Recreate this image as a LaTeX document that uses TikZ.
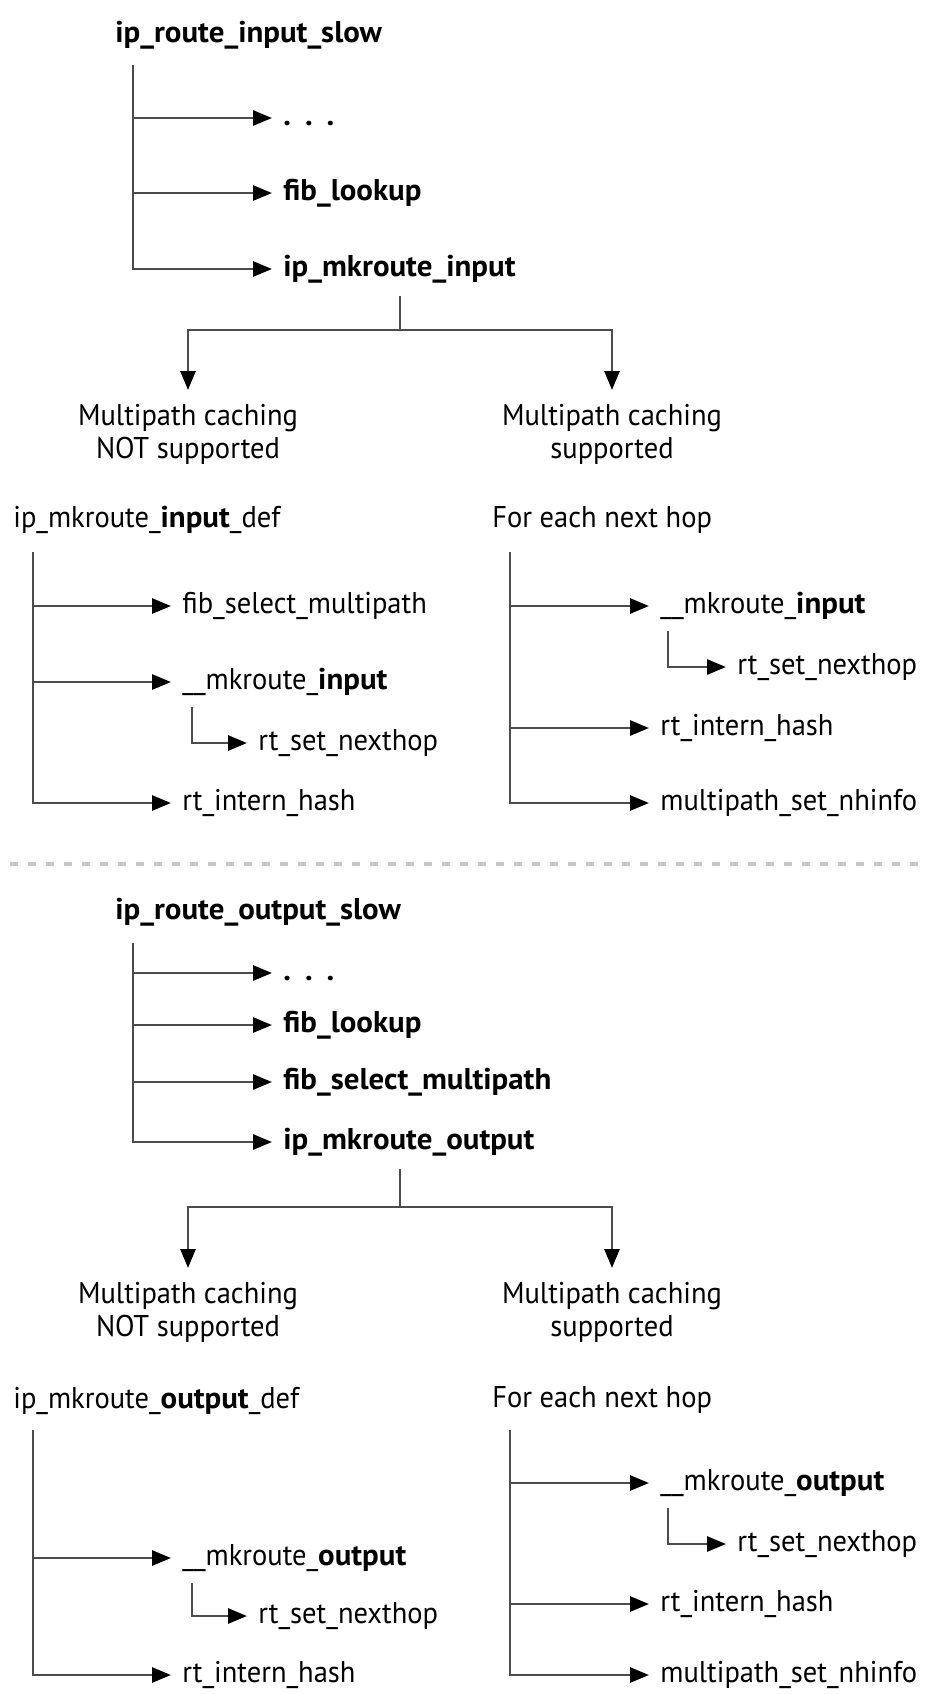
\documentclass[tikz,border=0pt]{standalone}
\usepackage{fontspec}
\setmainfont{PT Sans}[UprightFeatures={FakeStretch=0.95}, BoldFeatures={FakeStretch=1.03}]
\usetikzlibrary{arrows.meta,positioning}
\newcommand{\lblsize}{\fontsize{15}{16.5}\selectfont}
\tikzset{
  fn/.style={anchor=west, inner sep=0pt, text height=11pt, text depth=3.5pt, font=\lblsize},
  fnb/.style={fn, font=\lblsize\bfseries},
  cond/.style={anchor=north, align=center, inner sep=0pt, font=\lblsize},
  ln/.style={draw=black!70, line width=1.4pt},
  arr/.style={ln, -{Triangle[length=9.5pt,width=7.5pt,color=black]}, shorten >=5.5pt},
  sepline/.style={draw=black!22, line width=1.6pt, dash pattern=on 4pt off 5pt}
}
\newcommand{\calls}[2]{%
	\foreach \callee in {#2}{
		\draw[arr] (#1 |- \callee.west) -- (\callee.west);}
}

\begin{document}
\begin{tikzpicture}[x=0.5pt,y=-0.5pt]
        \useasboundingbox (0,0) rectangle (927,1694);
        \node[fnb] (ris) at (115,35) {ip\_route\_input\_slow};
        \coordinate (ti) at (133,65);
        \node[fnb] (dti) at (283,118) {.\hspace{7pt}.\hspace{7pt}.};
        \node[fnb] (fli) at (283,193) {fib\_lookup};
        \node[fnb] (mri) at (283,269) {ip\_mkroute\_input};
        \draw[arr] (ti) |- (mri.west);
        \calls{ti}{dti,fli}
        \coordinate (ki) at (400,330);
        \node[cond] (noi) at (188,404) {Multipath caching\\NOT supported};
        \node[cond] (yei) at (612,404) {Multipath caching\\supported};
        \draw[ln,shorten <=6pt] (ki |- mri.south) -- (ki);
        \draw[arr,shorten >=7pt] (ki) -| (noi.north);
        \draw[arr,shorten >=7pt] (ki) -| (yei.north);
        \node[fn] (dfi) at (13,520) {ip\_mkroute\_\textbf{input}\_def};
        \node[fn] (hpi) at (492,520) {For each next hop};
        \coordinate (lti) at (33,552);
        \coordinate (rti) at (510,552);
        \node[fn] (fsi) at (182,606) {fib\_select\_multipath};
        \node[fn] (mki) at (182,682) {\_\_mkroute\_\textbf{input}};
        \node[fn] (nhi) at (258,743) {rt\_set\_nexthop};
        \node[fn] (rhi) at (182,803) {rt\_intern\_hash};
        \draw[arr] (lti) |- (rhi.west);
        \calls{lti}{fsi,mki}
        \draw[arr] ([xshift=5pt,yshift=-5pt]mki.south west) |- (nhi.west);
        \node[fn] (mkj) at (660,606) {\_\_mkroute\_\textbf{input}};
        \node[fn] (nhj) at (737,667) {rt\_set\_nexthop};
        \node[fn] (rhj) at (660,728) {rt\_intern\_hash};
        \node[fn] (mpj) at (660,803) {multipath\_set\_nhinfo};
        \draw[arr] (rti) |- (mpj.west);
        \calls{rti}{mkj,rhj}
        \draw[arr] ([xshift=4pt,yshift=-5pt]mkj.south west) |- (nhj.west);
        \coordinate (sepl) at (10,864);
        \coordinate (sepr) at (927,864);
        \draw[sepline] (sepl) -- (sepr);
        \node[fnb] (ros) at (115,912) {ip\_route\_output\_slow};
        \coordinate (to) at (133,943);
        \node[fnb] (dto) at (283,973) {.\hspace{7pt}.\hspace{7pt}.};
        \node[fnb] (flo) at (283,1025) {fib\_lookup};
        \node[fnb] (fso) at (283,1082) {fib\_select\_multipath};
        \node[fnb] (mro) at (283,1142) {ip\_mkroute\_output};
        \draw[arr] (to) |- (mro.west);
        \calls{to}{dto,flo,fso}
        \coordinate (ko) at (400,1207);
        \node[cond] (noo) at (188,1282) {Multipath caching\\NOT supported};
        \node[cond] (yeo) at (612,1282) {Multipath caching\\supported};
        \draw[ln,shorten <=6pt] (ko |- mro.south) -- (ko);
        \draw[arr,shorten >=7pt] (ko) -| (noo.north);
        \draw[arr,shorten >=7pt] (ko) -| (yeo.north);
        \node[fn] (dfo) at (13,1401) {ip\_mkroute\_\textbf{output}\_def};
        \node[fn] (hpo) at (492,1400) {For each next hop};
        \coordinate (lto) at (33,1430);
        \coordinate (rto) at (510,1430);
        \node[fn] (mko) at (182,1558) {\_\_mkroute\_\textbf{output}};
        \node[fn] (nho) at (258,1616) {rt\_set\_nexthop};
        \node[fn] (rho) at (182,1675) {rt\_intern\_hash};
        \draw[arr] (lto) |- (rho.west);
        \calls{lto}{mko}
        \draw[arr] ([xshift=5pt,yshift=-5pt]mko.south west) |- (nho.west);
        \node[fn] (mkp) at (660,1483) {\_\_mkroute\_\textbf{output}};
        \node[fn] (nhp) at (737,1544) {rt\_set\_nexthop};
        \node[fn] (rhp) at (660,1604) {rt\_intern\_hash};
        \node[fn] (mpp) at (660,1675) {multipath\_set\_nhinfo};
        \draw[arr] (rto) |- (mpp.west);
        \calls{rto}{mkp,rhp}
        \draw[arr] ([xshift=4pt,yshift=-5pt]mkp.south west) |- (nhp.west);
\end{tikzpicture}
\end{document}
